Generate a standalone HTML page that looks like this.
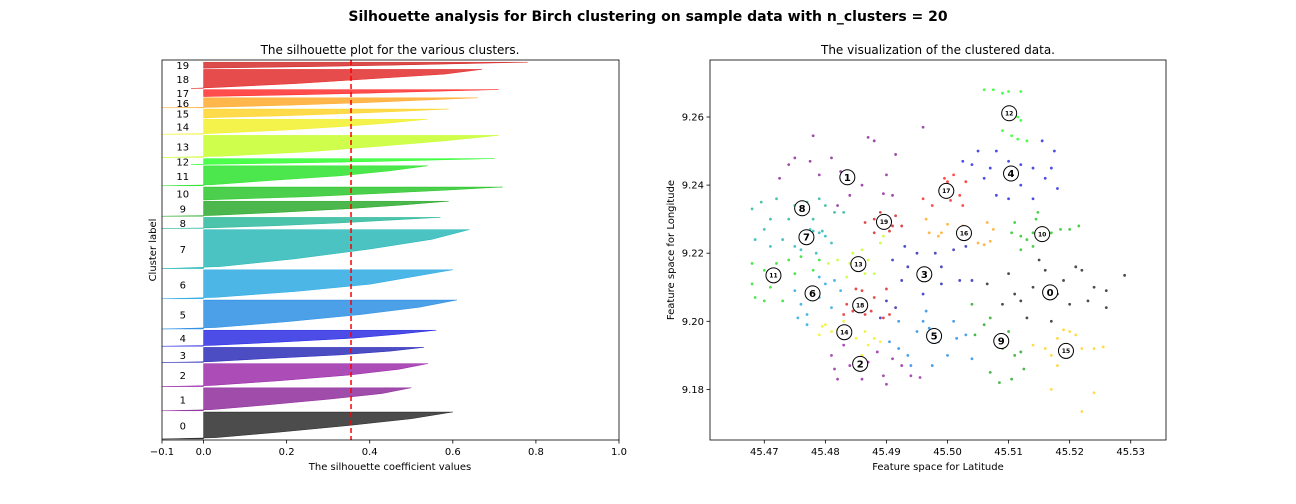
<!DOCTYPE html>
<html><head><meta charset="utf-8"><style>
html,body{margin:0;padding:0;background:#fff;}
svg{display:block;font-family:"DejaVu Sans","Liberation Sans",sans-serif;}
</style></head><body>
<svg id="fig" width="1296" height="504" xmlns="http://www.w3.org/2000/svg">
<text x="648" y="21" text-anchor="middle" font-size="14" font-weight="bold">Silhouette analysis for Birch clustering on sample data with n_clusters = 20</text>
<text x="390" y="54" text-anchor="middle" font-size="12">The silhouette plot for the various clusters.</text>
<text x="938" y="54" text-anchor="middle" font-size="12">The visualization of the clustered data.</text>
<g id="left"></g>
<g id="right"></g>
</svg>
<script>
// ---------- data ----------
const colors=["#000000","#770088","#880099","#0000aa","#0000dd","#0077dd","#0099dd","#00aaaa","#00aa88","#009900","#00bb00","#00dd00","#00ff00","#bbff00","#eeee00","#ffcc00","#ff9900","#ff0000","#dd0000","#cc0000"];
const clusterSizes=[27,23,23,15,16,29,29,39,11,15,13,20,6,22,15,9,10,7,19,6];
const profileFractions=[0,0.25,0.5,0.75,0.95,1];
const silProfiles=[
[0.60,0.50,0.35,0.18,0.03,-0.10],[0.50,0.43,0.30,0.15,0.02,-0.10],[0.54,0.47,0.35,0.18,0.02,-0.10],
[0.53,0.45,0.33,0.15,0.02,-0.10],[0.56,0.47,0.36,0.18,0.02,-0.10],[0.61,0.52,0.38,0.20,0.03,-0.10],
[0.60,0.50,0.40,0.22,0.03,-0.10],[0.64,0.55,0.40,0.22,0.04,-0.10],[0.57,0.45,0.33,0.18,0.02,-0.10],
[0.59,0.48,0.35,0.18,0.02,-0.10],[0.72,0.58,0.42,0.25,0.05,0.00],[0.54,0.45,0.33,0.15,0.02,-0.10],
[0.70,0.55,0.40,0.20,0.02,-0.03],[0.71,0.58,0.42,0.25,0.04,-0.10],[0.54,0.45,0.33,0.18,0.02,-0.10],
[0.59,0.48,0.35,0.20,0.03,0.00],[0.66,0.52,0.38,0.20,0.02,-0.10],[0.71,0.55,0.40,0.22,0.04,0.00],
[0.67,0.58,0.40,0.22,0.03,-0.03],[0.78,0.62,0.45,0.25,0.05,0.00]];
const silAverage=0.355;
const silXTicks=[-0.1,0.0,0.2,0.4,0.6,0.8,1.0];
const silXTickLabels=["−0.1","0.0","0.2","0.4","0.6","0.8","1.0"];
const latTicks=[45.47,45.48,45.49,45.50,45.51,45.52,45.53];
const latTickLabels=["45.47","45.48","45.49","45.50","45.51","45.52","45.53"];
const lonTicks=[9.18,9.20,9.22,9.24,9.26];
const lonTickLabels=["9.18","9.20","9.22","9.24","9.26"];
const centers=[[45.5168,9.2085],[45.4836,9.2423],[45.4857,9.1875],[45.4962,9.2138],[45.5104,9.2434],[45.4978,9.1957],[45.4779,9.2082],[45.4769,9.2247],[45.4762,9.2332],[45.5088,9.1942],[45.5155,9.2256],[45.4715,9.2135],[45.5101,9.2611],[45.4854,9.2168],[45.4831,9.1968],[45.5194,9.1913],[45.5027,9.2259],[45.4998,9.2383],[45.4857,9.2047],[45.4896,9.2292]];
const points=[
[[45.5065,9.2110],[45.5100,9.2140],[45.5120,9.2060],[45.5140,9.2100],[45.5160,9.2150],[45.5180,9.2080],[45.5200,9.2050],[45.5220,9.2150],[45.5240,9.2100],[45.5260,9.2090],[45.5130,9.2010],[45.5170,9.2000],[45.5150,9.2180],[45.5190,9.2120],[45.5230,9.2060],[45.5290,9.2135],[45.5110,9.2080],[45.5260,9.2040],[45.5090,9.2050],[45.5210,9.2160]],
[[45.4725,9.2420],[45.4740,9.2460],[45.4750,9.2480],[45.4775,9.2470],[45.4790,9.2430],[45.4810,9.2480],[45.4825,9.2440],[45.4840,9.2370],[45.4860,9.2400],[45.4880,9.2530],[45.4900,9.2430],[45.4910,9.2370],[45.4895,9.2375],[45.4870,9.2540],[45.4780,9.2545],[45.4820,9.2340],[45.4960,9.2570],[45.4915,9.2490]],
[[45.4810,9.1900],[45.4815,9.1860],[45.4820,9.1830],[45.4840,9.1870],[45.4860,9.1830],[45.4870,9.1880],[45.4885,9.1910],[45.4900,9.1815],[45.4910,9.1890],[45.4925,9.1870],[45.4940,9.1840],[45.4955,9.1835],[45.4830,9.1930],[45.4895,9.1840]],
[[45.4930,9.2220],[45.4950,9.2200],[45.4980,9.2200],[45.5010,9.2210],[45.5030,9.2220],[45.4910,9.2180],[45.4935,9.2160],[45.4960,9.2140],[45.4925,9.2120],[45.4900,9.2060],[45.4890,9.2010],[45.4960,9.2080],[45.4990,9.2110],[45.5020,9.2120],[45.5040,9.2120],[45.4915,9.2040],[45.4990,9.2160]],
[[45.5025,9.2470],[45.5040,9.2460],[45.5050,9.2500],[45.5070,9.2450],[45.5080,9.2500],[45.5100,9.2470],[45.5120,9.2460],[45.5140,9.2450],[45.5155,9.2530],[45.5170,9.2450],[45.5180,9.2390],[45.5120,9.2400],[45.5140,9.2360],[45.5080,9.2370],[45.5100,9.2360],[45.5060,9.2420],[45.5160,9.2420],[45.5175,9.2500]],
[[45.4905,9.1940],[45.4920,9.1920],[45.4935,9.1900],[45.4950,9.1970],[45.4960,9.2000],[45.4970,9.1980],[45.4985,9.1940],[45.5000,9.1900],[45.5015,9.1950],[45.5030,9.1960],[45.5040,9.1890],[45.4965,9.2030],[45.4940,9.1870],[45.4975,9.1870],[45.5010,9.2000],[45.4920,9.2000]],
[[45.4750,9.2090],[45.4760,9.2050],[45.4770,9.2020],[45.4780,9.2100],[45.4790,9.2070],[45.4800,9.2110],[45.4815,9.2120],[45.4825,9.2090],[45.4770,9.1990],[45.4810,9.2040],[45.4790,9.2130],[45.4755,9.2010]],
[[45.4685,9.2240],[45.4700,9.2270],[45.4710,9.2220],[45.4730,9.2240],[45.4750,9.2220],[45.4770,9.2260],[45.4780,9.2265],[45.4790,9.2260],[45.4800,9.2250],[45.4810,9.2230],[45.4785,9.2200],[45.4760,9.2210],[45.4795,9.2265],[45.4775,9.2270]],
[[45.4680,9.2330],[45.4695,9.2350],[45.4710,9.2300],[45.4720,9.2360],[45.4740,9.2300],[45.4750,9.2340],[45.4770,9.2350],[45.4790,9.2360],[45.4800,9.2340],[45.4815,9.2320],[45.4830,9.2320],[45.4780,9.2300]],
[[45.5045,9.1960],[45.5060,9.1990],[45.5070,9.2010],[45.5080,9.1950],[45.5090,9.1920],[45.5100,9.1970],[45.5110,9.1900],[45.5125,9.1860],[45.5070,9.1850],[45.5085,9.1820],[45.5105,9.1830],[45.5120,9.1910],[45.5040,9.2050]],
[[45.5105,9.2260],[45.5120,9.2250],[45.5130,9.2240],[45.5140,9.2260],[45.5145,9.2300],[45.5148,9.2320],[45.5160,9.2250],[45.5170,9.2260],[45.5185,9.2270],[45.5200,9.2270],[45.5215,9.2280],[45.5120,9.2210],[45.5140,9.2220],[45.5110,9.2290]],
[[45.4680,9.2170],[45.4680,9.2110],[45.4685,9.2070],[45.4700,9.2150],[45.4710,9.2100],[45.4720,9.2170],[45.4730,9.2060],[45.4740,9.2180],[45.4760,9.2190],[45.4780,9.2150],[45.4790,9.2180],[45.4700,9.2060],[45.4750,9.2140]],
[[45.5060,9.2680],[45.5075,9.2680],[45.5090,9.2670],[45.5100,9.2675],[45.5120,9.2675],[45.5115,9.2600],[45.5120,9.2590],[45.5090,9.2560],[45.5105,9.2545],[45.5115,9.2535],[45.5130,9.2530]],
[[45.4805,9.2170],[45.4820,9.2180],[45.4840,9.2170],[45.4850,9.2150],[45.4860,9.2210],[45.4870,9.2180],[45.4880,9.2140],[45.4890,9.2230],[45.4895,9.2250],[45.4835,9.2130],[45.4865,9.2140],[45.4845,9.2200]],
[[45.4790,9.1960],[45.4800,9.1990],[45.4810,9.1970],[45.4830,9.2000],[45.4850,9.1950],[45.4860,9.1900],[45.4870,9.1930],[45.4880,9.1950],[45.4890,9.1940],[45.4865,9.1970],[45.4795,9.1985],[45.4820,9.1975]],
[[45.5140,9.1930],[45.5160,9.1920],[45.5170,9.1900],[45.5180,9.1950],[45.5190,9.1975],[45.5200,9.1970],[45.5220,9.1920],[45.5240,9.1920],[45.5255,9.1925],[45.5180,9.1870],[45.5170,9.1800],[45.5240,9.1790],[45.5220,9.1735],[45.5210,9.1960]],
[[45.4965,9.2300],[45.4970,9.2260],[45.4985,9.2250],[45.5000,9.2285],[45.5025,9.2280],[45.5030,9.2245],[45.5050,9.2230],[45.5060,9.2225],[45.5070,9.2235],[45.5075,9.2270],[45.5065,9.2290],[45.4990,9.2260]],
[[45.4960,9.2360],[45.4975,9.2340],[45.4990,9.2390],[45.5000,9.2410],[45.5010,9.2430],[45.5020,9.2370],[45.5030,9.2410],[45.5005,9.2355],[45.4995,9.2420],[45.5025,9.2340]],
[[45.4835,9.2050],[45.4845,9.2030],[45.4855,9.2060],[45.4860,9.2090],[45.4865,9.2020],[45.4875,9.2030],[45.4880,9.2070],[45.4895,9.2010],[45.4905,9.2020],[45.4900,9.2095],[45.4830,9.2020],[45.4850,9.2095]],
[[45.4865,9.2290],[45.4880,9.2300],[45.4890,9.2320],[45.4900,9.2300],[45.4910,9.2280],[45.4915,9.2310],[45.4925,9.2280],[45.4880,9.2260],[45.4905,9.2265]]];

// ---------- helpers ----------
const NS="http://www.w3.org/2000/svg";
function mk(parent,tag,attrs,text){const e=document.createElementNS(NS,tag);for(const k in attrs)e.setAttribute(k,attrs[k]);if(text!==undefined)e.textContent=text;parent.appendChild(e);return e;}

// ---------- left: silhouette ----------
const L=document.getElementById('left');
const lx0=162,lx1=619,ly0=60,ly1=440;
const sx=v=>lx0+(v-(-0.1))/(1.1)*(lx1-lx0);
const syL=v=>ly1-v/380*(ly1-ly0);
let yLower=1;
for(let i=0;i<clusterSizes.length;i++){
  const size=clusterSizes[i],prof=silProfiles[i];
  const yTop=yLower+size;
  let d=`M${sx(0)},${syL(yTop)}`;
  for(let k=0;k<prof.length;k++){d+=` L${sx(prof[k])},${syL(yTop-profileFractions[k]*size)}`;}
  d+=` L${sx(0)},${syL(yLower)} Z`;
  const p=mk(L,'path',{d:d,fill:colors[i],'fill-opacity':0.7,stroke:colors[i],'stroke-opacity':0.7,'stroke-width':0.5});
  
  
  const t=mk(L,'text',{x:sx(-0.05),y:syL(yLower+size/2)+4,'text-anchor':'middle','font-size':10},String(i));
  
  
  yLower=yTop+1.2;
}
const avg=mk(L,'line',{x1:sx(silAverage),x2:sx(silAverage),y1:ly0,y2:ly1,stroke:'#ff0000','stroke-width':1.5,'stroke-dasharray':'5,3'});


const lf=mk(L,'rect',{x:lx0,y:ly0,width:lx1-lx0,height:ly1-ly0,fill:'none',stroke:'#000','stroke-width':0.8});


silXTicks.forEach((v,i)=>{
  const x=sx(v);
  const tk=mk(L,'line',{x1:x,x2:x,y1:ly1,y2:ly1+3.5,stroke:'#000','stroke-width':0.8});
  
  
  const tl=mk(L,'text',{x:x,y:ly1+15,'text-anchor':'middle','font-size':10},silXTickLabels[i]);
  
  
});
const lxl=mk(L,'text',{x:390,y:470,'text-anchor':'middle','font-size':10},'The silhouette coefficient values');


const lyl=mk(L,'text',{x:0,y:0,'text-anchor':'middle','font-size':10,transform:'translate(156,250) rotate(-90)'},'Cluster label');



// ---------- right: scatter ----------
const R=document.getElementById('right');
const rx0=710,rx1=1166,ry0=60,ry1=440;
const px=v=>764.3+(v-45.47)*6107;
const py=v=>117-(v-9.26)*3405;
for(let i=0;i<points.length;i++){
  for(const pt of points[i]){
    const c=mk(R,'circle',{cx:px(pt[0]),cy:py(pt[1]),r:1.4,fill:colors[i],'fill-opacity':0.7});
    
    
  }
}
centers.forEach((c,i)=>{
  const g=mk(R,'g',{});
  
  
  mk(g,'circle',{cx:px(c[0]),cy:py(c[1]),r:7.5,fill:'#fff',stroke:'#000','stroke-width':1});
  const two=i>=10;
  mk(g,'text',{x:px(c[0]),y:py(c[1])+(two?2.2:3.5),'text-anchor':'middle','font-size':two?6:10,'font-weight':'bold'},String(i));
});
const rf=mk(R,'rect',{x:rx0,y:ry0,width:rx1-rx0,height:ry1-ry0,fill:'none',stroke:'#000','stroke-width':0.8});


latTicks.forEach((v,i)=>{
  const x=px(v);
  const tk=mk(R,'line',{x1:x,x2:x,y1:ry1,y2:ry1+3.5,stroke:'#000','stroke-width':0.8});
  
  
  const tl=mk(R,'text',{x:x,y:ry1+15,'text-anchor':'middle','font-size':10},latTickLabels[i]);
  
  
});
lonTicks.forEach((v,i)=>{
  const y=py(v);
  const tk=mk(R,'line',{x1:rx0-3.5,x2:rx0,y1:y,y2:y,stroke:'#000','stroke-width':0.8});
  
  
  const tl=mk(R,'text',{x:rx0-6,y:y+3.5,'text-anchor':'end','font-size':10},lonTickLabels[i]);
  
  
});
const rxl=mk(R,'text',{x:938,y:470,'text-anchor':'middle','font-size':10},'Feature space for Latitude');


const ryl=mk(R,'text',{x:0,y:0,'text-anchor':'middle','font-size':10,transform:'translate(674,250) rotate(-90)'},'Feature space for Longitude');


</script>
</body></html>
